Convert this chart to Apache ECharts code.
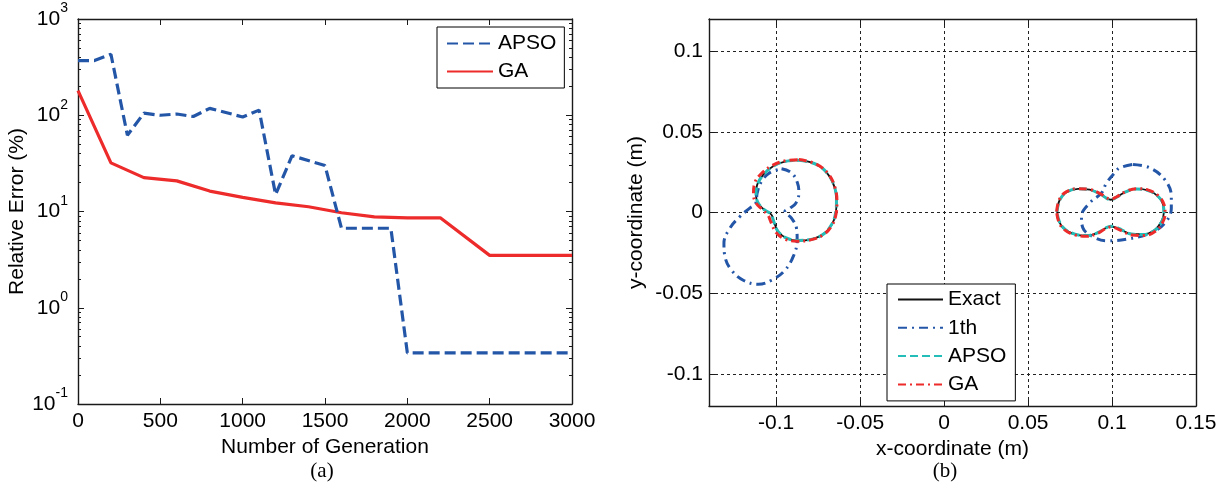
<!DOCTYPE html>
<html>
<head>
<meta charset="utf-8">
<script src="https://cdn.jsdelivr.net/npm/echarts@6/dist/echarts.min.js"></script>
<style>
html, body { margin: 0; padding: 0; background: #fff; }
#main { width: 1228px; height: 489px; }
</style>
</head>
<body>
<div id="main"></div>
<script>
// ---- (a) relative error vs number of generation ----
var apsoGen = [0, 100, 200, 300, 400, 500, 600, 700, 800, 1000, 1100, 1200, 1300, 1500, 1600, 1900, 2000, 3000];
var apsoErr = [370, 370, 430, 62, 105, 100, 103, 97, 118, 96, 113, 15, 38, 30, 6.7, 6.7, 0.34, 0.34];
var gaGen = [0, 200, 400, 600, 800, 1000, 1200, 1400, 1600, 1800, 2000, 2200, 2500, 3000];
var gaErr = [180, 32, 22.5, 20.8, 16.3, 14, 12.3, 11.2, 9.7, 8.8, 8.6, 8.6, 3.5, 3.5];
var genTicks = [0, 500, 1000, 1500, 2000, 2500, 3000];

// ---- (b) reconstructed shapes, [x, y] in metres ----
var exactLeft = [
  [-0.0859, 0.0325], [-0.0760, 0.0298], [-0.0690, 0.0235], [-0.0651, 0.0152], [-0.0641, 0.0069],
  [-0.0645, -0.0004], [-0.0670, -0.0077], [-0.0720, -0.0135], [-0.0790, -0.0166], [-0.0869, -0.0175],
  [-0.0938, -0.0160], [-0.0988, -0.0118], [-0.1014, -0.0056], [-0.1028, -0.0014], [-0.1067, 0.0013],
  [-0.1107, 0.0058], [-0.1121, 0.0110], [-0.1113, 0.0173], [-0.1077, 0.0235], [-0.1018, 0.0287],
  [-0.0948, 0.0316], [-0.0859, 0.0325]
];
var exactRight = [
  [0.0673, 0.0006], [0.0689, 0.0079], [0.0729, 0.0125], [0.0798, 0.0146], [0.0867, 0.0142],
  [0.0927, 0.0117], [0.0967, 0.0090], [0.0992, 0.0079], [0.1026, 0.0094], [0.1076, 0.0125],
  [0.1145, 0.0146], [0.1214, 0.0137], [0.1274, 0.0100], [0.1304, 0.0048], [0.1308, -0.0004],
  [0.1294, -0.0056], [0.1254, -0.0108], [0.1185, -0.0135], [0.1115, -0.0133], [0.1056, -0.0108],
  [0.1016, -0.0091], [0.0992, -0.0087], [0.0962, -0.0097], [0.0917, -0.0125], [0.0848, -0.0144],
  [0.0778, -0.0135], [0.0718, -0.0104], [0.0685, -0.0056], [0.0673, 0.0006]
];
var firstLeft = [
  [-0.0968, 0.0271], [-0.0909, 0.0246], [-0.0873, 0.0183], [-0.0865, 0.0121], [-0.0883, 0.0058],
  [-0.0918, 0.0027], [-0.0948, 0.0006], [-0.0909, -0.0035], [-0.0879, -0.0098], [-0.0875, -0.0170],
  [-0.0895, -0.0264], [-0.0948, -0.0358], [-0.1028, -0.0420], [-0.1107, -0.0445], [-0.1196, -0.0420],
  [-0.1266, -0.0358], [-0.1305, -0.0274], [-0.1311, -0.0191], [-0.1276, -0.0098], [-0.1216, -0.0025],
  [-0.1157, 0.0027], [-0.1121, 0.0058], [-0.1113, 0.0121], [-0.1087, 0.0194], [-0.1038, 0.0246],
  [-0.0968, 0.0271]
];
var firstRight = [
  [0.1125, 0.0298], [0.1224, 0.0277], [0.1314, 0.0204], [0.1353, 0.0100], [0.1353, 0.0027],
  [0.1314, -0.0066], [0.1224, -0.0129], [0.1085, -0.0166], [0.0967, -0.0175], [0.0887, -0.0150],
  [0.0827, -0.0097], [0.0818, -0.0025], [0.0867, 0.0059], [0.0937, 0.0121], [0.0967, 0.0183],
  [0.1016, 0.0246], [0.1046, 0.0277], [0.1125, 0.0298]
];
var apsoLeft = [
  [-0.0862, 0.0324], [-0.0758, 0.0297], [-0.0688, 0.0233], [-0.0650, 0.0150], [-0.0641, 0.0070],
  [-0.0646, -0.0003], [-0.0672, -0.0078], [-0.0722, -0.0137], [-0.0792, -0.0167], [-0.0870, -0.0173],
  [-0.0940, -0.0158], [-0.0990, -0.0115], [-0.1016, -0.0052], [-0.1030, -0.0010], [-0.1069, 0.0016],
  [-0.1108, 0.0061], [-0.1120, 0.0112], [-0.1111, 0.0175], [-0.1075, 0.0236], [-0.1016, 0.0288],
  [-0.0946, 0.0317], [-0.0862, 0.0324]
];
var apsoRight = [
  [0.0672, 0.0004], [0.0690, 0.0080], [0.0730, 0.0127], [0.0799, 0.0147], [0.0868, 0.0141],
  [0.0928, 0.0115], [0.0968, 0.0088], [0.0993, 0.0080], [0.1027, 0.0095], [0.1077, 0.0126],
  [0.1146, 0.0145], [0.1215, 0.0136], [0.1275, 0.0099], [0.1305, 0.0046], [0.1309, -0.0005],
  [0.1295, -0.0058], [0.1255, -0.0110], [0.1186, -0.0137], [0.1116, -0.0134], [0.1057, -0.0107],
  [0.1017, -0.0089], [0.0993, -0.0085], [0.0963, -0.0095], [0.0918, -0.0124], [0.0849, -0.0143],
  [0.0779, -0.0134], [0.0719, -0.0103], [0.0686, -0.0055], [0.0672, 0.0004]
];
var gaLeft = [
  [-0.0865, 0.0328], [-0.0762, 0.0300], [-0.0688, 0.0238], [-0.0649, 0.0152], [-0.0638, 0.0066],
  [-0.0643, -0.0006], [-0.0668, -0.0080], [-0.0722, -0.0140], [-0.0795, -0.0170], [-0.0875, -0.0178],
  [-0.0948, -0.0165], [-0.1000, -0.0125], [-0.1030, -0.0062], [-0.1050, -0.0015], [-0.1085, 0.0020],
  [-0.1122, 0.0062], [-0.1135, 0.0115], [-0.1128, 0.0182], [-0.1085, 0.0245], [-0.1022, 0.0292],
  [-0.0950, 0.0320], [-0.0865, 0.0328]
];
var gaRight = [
  [0.0670, 0.0006], [0.0687, 0.0082], [0.0727, 0.0128], [0.0797, 0.0148], [0.0866, 0.0143],
  [0.0926, 0.0119], [0.0966, 0.0093], [0.0992, 0.0083], [0.1026, 0.0096], [0.1076, 0.0127],
  [0.1145, 0.0148], [0.1216, 0.0139], [0.1278, 0.0102], [0.1310, 0.0048], [0.1316, -0.0006],
  [0.1302, -0.0060], [0.1262, -0.0114], [0.1190, -0.0143], [0.1117, -0.0140], [0.1056, -0.0113],
  [0.1016, -0.0094], [0.0992, -0.0090], [0.0961, -0.0100], [0.0915, -0.0129], [0.0846, -0.0148],
  [0.0776, -0.0138], [0.0716, -0.0106], [0.0683, -0.0058], [0.0670, 0.0006]
];
var xTicks = [-0.1, -0.05, 0, 0.05, 0.1, 0.15];
var yTicks = [-0.1, -0.05, 0, 0.05, 0.1];

var FONT = '"Liberation Sans", Arial, Helvetica, sans-serif';
var BLUE = '#2456a8';
var RED = '#ee2b2b';
var CYAN = '#25bdb8';
var AXIS = '#1a1a1a';

// minor ticks for the log axis (2..9 in each decade), on a log10 value overlay
var minorLogs = [];
for (var d = -1; d < 3; d++) {
  for (var k = 2; k <= 9; k++) minorLogs.push(d + Math.log10(k));
}

function pairs(xs, ys) {
  return xs.map(function (x, i) { return [x, ys[i]]; });
}

var axisLine = { show: true, onZero: false, lineStyle: { color: AXIS, width: 1.4 } };
var noLine = { show: false, onZero: false };
var tickIn = { show: true, inside: true, length: 6, lineStyle: { color: AXIS, width: 1 } };
var minorTick = { show: true, inside: true, length: 3, customValues: minorLogs, lineStyle: { color: AXIS, width: 1 } };
var labelFont = { fontSize: 21, color: '#000', fontFamily: FONT };
var nameFont = { fontSize: 21, color: '#000', fontFamily: FONT };
var plain = function (v) { return String(v); };

function mirrorX(grid, min, max, ticks) {
  return {
    gridIndex: grid, type: 'value', position: 'top', min: min, max: max,
    axisLine: axisLine, axisLabel: { show: false },
    axisTick: Object.assign({}, tickIn, { customValues: ticks }), splitLine: { show: false }
  };
}

function legendBase(extra) {
  return Object.assign({
    orient: 'vertical', itemHeight: 14, selectedMode: false,
    borderColor: '#000', borderWidth: 1, backgroundColor: '#fff',
    itemStyle: { opacity: 0 },
    textStyle: { fontSize: 21, lineHeight: 21, color: '#000', fontFamily: FONT }
  }, extra);
}

function shape(name, data, color, width, dash, z) {
  return {
    name: name, type: 'line', xAxisIndex: 2, yAxisIndex: 4, symbol: 'none', smooth: 0.4,
    data: data, itemStyle: { color: color },
    lineStyle: { color: color, width: width, type: dash }, z: z
  };
}

var chart = echarts.init(document.getElementById('main'));

var option = {
  animation: false,
  backgroundColor: '#fff',
  grid: [
    { left: 78, top: 19, width: 494, height: 385 },
    { left: 709, top: 19, width: 487, height: 387 }
  ],
  xAxis: [
    {
      gridIndex: 0, type: 'value', min: 0, max: 3000, interval: 500,
      name: 'Number of Generation', nameLocation: 'middle', nameGap: 31, nameTextStyle: nameFont,
      axisLine: axisLine, axisTick: tickIn,
      axisLabel: Object.assign({ margin: 7, formatter: plain }, labelFont), splitLine: { show: false }
    },
    mirrorX(0, 0, 3000, genTicks),
    {
      gridIndex: 1, type: 'value', min: -0.14, max: 0.15,
      name: 'x-coordinate (m)', nameLocation: 'middle', nameGap: 32, nameTextStyle: nameFont,
      axisLine: axisLine,
      axisTick: Object.assign({}, tickIn, { customValues: xTicks }),
      axisLabel: Object.assign({ margin: 7, customValues: xTicks, formatter: plain }, labelFont),
      splitLine: { show: true, lineStyle: { color: '#222', width: 1, type: [3, 3] } }
    },
    mirrorX(1, -0.14, 0.15, xTicks)
  ],
  yAxis: [
    {
      gridIndex: 0, type: 'log', logBase: 10, min: 0.1, max: 1000,
      name: 'Relative Error (%)', nameLocation: 'middle', nameGap: 50, nameTextStyle: nameFont,
      axisLine: axisLine, axisTick: tickIn, splitLine: { show: false },
      axisLabel: {
        margin: 10, fontFamily: FONT, color: '#000',
        formatter: function (v) { return '{b|10}{s|' + Math.round(Math.log10(v)) + '}'; },
        rich: {
          b: { fontSize: 21, lineHeight: 35, fontFamily: FONT, color: '#000' },
          s: { fontSize: 14, lineHeight: 14, verticalAlign: 'top', fontFamily: FONT, color: '#000' }
        }
      }
    },
    {
      gridIndex: 0, type: 'log', logBase: 10, min: 0.1, max: 1000, position: 'right',
      axisLine: axisLine, axisTick: tickIn, axisLabel: { show: false }, splitLine: { show: false }
    },
    {
      gridIndex: 0, type: 'value', min: -1, max: 3, position: 'left',
      axisLine: noLine, axisLabel: { show: false }, splitLine: { show: false }, axisTick: minorTick
    },
    {
      gridIndex: 0, type: 'value', min: -1, max: 3, position: 'right',
      axisLine: noLine, axisLabel: { show: false }, splitLine: { show: false }, axisTick: minorTick
    },
    {
      gridIndex: 1, type: 'value', min: -0.12, max: 0.12,
      name: 'y-coordinate (m)', nameLocation: 'middle', nameGap: 62, nameTextStyle: nameFont,
      axisLine: axisLine,
      axisTick: Object.assign({}, tickIn, { customValues: yTicks }),
      axisLabel: Object.assign({ margin: 6, customValues: yTicks, formatter: plain }, labelFont),
      splitLine: { show: true, lineStyle: { color: '#222', width: 1, type: [3, 3] } }
    },
    {
      gridIndex: 1, type: 'value', min: -0.12, max: 0.12, position: 'right',
      axisLine: axisLine, axisLabel: { show: false }, splitLine: { show: false },
      axisTick: Object.assign({}, tickIn, { customValues: yTicks })
    }
  ],
  legend: [
    legendBase({
      data: ['APSO', 'GA'], left: 437, top: 27,
      itemWidth: 46, itemGap: 7, padding: [6, 8, 6, 9]
    }),
    legendBase({
      data: ['Exact', '1th', 'b-APSO', 'b-GA'], left: 887, top: 284,
      itemWidth: 45, itemGap: 7.3, padding: [5, 9, 6, 10],
      formatter: function (n) { return n.replace(/^b-/, ''); }
    })
  ],
  graphic: [
    { type: 'text', x: 322, y: 471, style: { text: '(a)', font: '21px "Liberation Serif", "Times New Roman", serif', fill: '#000', textAlign: 'center', textVerticalAlign: 'middle' } },
    { type: 'text', x: 945, y: 471, style: { text: '(b)', font: '21px "Liberation Serif", "Times New Roman", serif', fill: '#000', textAlign: 'center', textVerticalAlign: 'middle' } }
  ],
  series: [
    {
      name: 'APSO', type: 'line', xAxisIndex: 0, yAxisIndex: 0, symbol: 'none',
      data: pairs(apsoGen, apsoErr), itemStyle: { color: BLUE },
      lineStyle: { color: BLUE, width: 3.2, type: [11, 5] }, z: 3
    },
    {
      name: 'GA', type: 'line', xAxisIndex: 0, yAxisIndex: 0, symbol: 'none',
      data: pairs(gaGen, gaErr), itemStyle: { color: RED },
      lineStyle: { color: RED, width: 3.2 }, z: 2
    },
    shape('Exact', exactLeft, '#111', 1.8, 'solid', 2),
    shape('Exact', exactRight, '#111', 1.8, 'solid', 2),
    shape('1th', firstLeft, BLUE, 3, [9, 5, 2, 5], 3),
    shape('1th', firstRight, BLUE, 3, [9, 5, 2, 5], 3),
    shape('b-APSO', apsoLeft, CYAN, 3, [8, 4], 4),
    shape('b-APSO', apsoRight, CYAN, 3, [8, 4], 4),
    shape('b-GA', gaLeft, RED, 3, [8, 4, 2, 4], 5),
    shape('b-GA', gaRight, RED, 3, [8, 4, 2, 4], 5)
  ]
};

chart.setOption(option);
</script>
</body>
</html>
